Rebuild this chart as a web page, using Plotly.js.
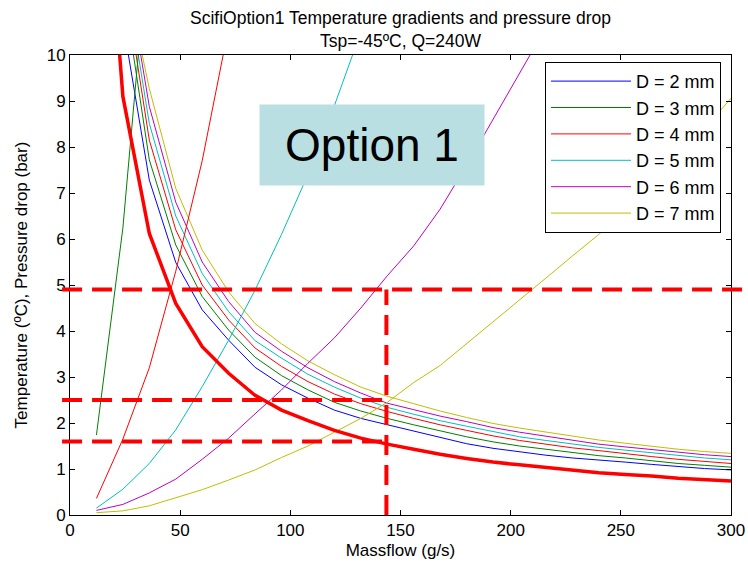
<!DOCTYPE html>
<html>
<head>
<meta charset="utf-8">
<script src="https://cdn.plot.ly/plotly-3.0.1.min.js"></script>
<style>html,body{margin:0;padding:0;background:#fff;} #chart{width:748px;height:566px;}</style>
</head>
<body>
<div id="chart"></div>
<script>
// Massflow (g/s)
const massflow = [12, 24, 36, 48, 60, 72, 84, 96, 108, 120, 132, 144, 156, 168, 180, 192, 204, 216, 228, 240, 252, 264, 276, 288, 300];

// Temperature gradients (decreasing curves)
const tempBold = [16.5, 9.1, 6.12, 4.6, 3.66, 3.08, 2.6, 2.28, 2.05, 1.84, 1.67, 1.54, 1.43, 1.32, 1.23, 1.15, 1.09, 1.03, 0.97, 0.92, 0.88, 0.85, 0.80, 0.77, 0.74];
const tempD2 = [20.0, 10.72, 7.28, 5.49, 4.46, 3.80, 3.21, 2.83, 2.54, 2.28, 2.10, 1.96, 1.82, 1.68, 1.55, 1.45, 1.37, 1.30, 1.24, 1.20, 1.15, 1.10, 1.05, 1.01, 0.98];
const tempD3 = [21.5, 11.52, 7.72, 5.87, 4.75, 4.02, 3.43, 3.03, 2.72, 2.45, 2.26, 2.10, 1.96, 1.83, 1.70, 1.59, 1.50, 1.43, 1.36, 1.29, 1.24, 1.18, 1.12, 1.08, 1.04];
const tempD4 = [22.5, 11.85, 8.15, 6.2, 5.0, 4.24, 3.63, 3.23, 2.90, 2.63, 2.42, 2.25, 2.10, 1.96, 1.84, 1.72, 1.62, 1.54, 1.46, 1.40, 1.33, 1.27, 1.21, 1.16, 1.12];
const tempD5 = [23.5, 12.09, 8.51, 6.5, 5.25, 4.42, 3.79, 3.41, 3.06, 2.78, 2.54, 2.34, 2.19, 2.05, 1.93, 1.81, 1.70, 1.62, 1.54, 1.47, 1.41, 1.35, 1.29, 1.24, 1.20];
const tempD6 = [24.5, 12.33, 8.88, 6.8, 5.5, 4.64, 3.97, 3.56, 3.20, 2.90, 2.65, 2.43, 2.29, 2.15, 2.03, 1.90, 1.80, 1.71, 1.62, 1.54, 1.48, 1.42, 1.36, 1.31, 1.27];
const tempD7 = [25.5, 12.0, 9.27, 7.1, 5.76, 4.85, 4.16, 3.72, 3.35, 3.05, 2.78, 2.58, 2.42, 2.26, 2.12, 1.99, 1.89, 1.80, 1.71, 1.63, 1.56, 1.49, 1.43, 1.38, 1.34];

// Pressure drop (increasing curves), same massflow points from the start
const dpD3 = [1.74, 6.24, 12.7];
const dpD4 = [0.36, 1.65, 3.2, 5.3, 7.7, 10.6];
const dpD5 = [0.15, 0.56, 1.12, 1.85, 2.79, 3.8, 4.89, 6.1, 7.4, 8.9, 10.5];
const dpD6 = [0.1, 0.23, 0.48, 0.78, 1.21, 1.67, 2.2, 2.72, 3.3, 3.85, 4.5, 5.2, 5.85, 6.65, 7.6, 8.6, 9.6, 10.6];
const dpD7 = [0.05, 0.09, 0.2, 0.38, 0.55, 0.76, 0.98, 1.25, 1.5, 1.8, 2.1, 2.45, 2.88, 3.25, 3.72, 4.2, 4.68, 5.15, 5.63, 6.1, 6.62, 7.2, 7.8, 8.4, 9.06];

const seriesNames = ['D = 2 mm', 'D = 3 mm', 'D = 4 mm', 'D = 5 mm', 'D = 6 mm', 'D = 7 mm'];
const seriesColors = ['#0000ff', '#008000', '#ff0000', '#00bfbf', '#bf00bf', '#bfbf00'];

// Guide lines (operating point)
const guideY = [4.9, 2.5, 1.6];
const guideX = 143.6;

const xRange = [0, 300];
const yRange = [0, 10];

const temps = [tempD2, tempD3, tempD4, tempD5, tempD6, tempD7];
const dps = [null, dpD3, dpD4, dpD5, dpD6, dpD7];

const traces = [];
temps.forEach((t, i) => {
  traces.push({
    x: massflow, y: t, type: 'scatter', mode: 'lines',
    name: seriesNames[i], legendrank: i + 1,
    line: {color: seriesColors[i], width: 1}
  });
});
dps.forEach((d, i) => {
  if (!d) return;
  traces.push({
    x: massflow.slice(0, d.length), y: d, type: 'scatter', mode: 'lines',
    showlegend: false,
    line: {color: seriesColors[i], width: 1}
  });
});
traces.push({
  x: massflow, y: tempBold, type: 'scatter', mode: 'lines', showlegend: false,
  line: {color: '#ff0000', width: 3.5}
});

const font = 'Liberation Sans, Arial, sans-serif';
const dashStyle = {color: '#ff0000', width: 4, dash: '20px,10px'};
const xPaper = v => (v - xRange[0]) / (xRange[1] - xRange[0]);

const shapes = [
  {type: 'line', xref: 'paper', yref: 'y', x0: -0.012, x1: 1.03, y0: guideY[0], y1: guideY[0], line: dashStyle},
  {type: 'line', xref: 'paper', yref: 'y', x0: -0.012, x1: xPaper(guideX), y0: guideY[1], y1: guideY[1], line: dashStyle},
  {type: 'line', xref: 'paper', yref: 'y', x0: -0.012, x1: xPaper(guideX), y0: guideY[2], y1: guideY[2], line: dashStyle},
  {type: 'line', xref: 'x', yref: 'y', x0: guideX, x1: guideX, y0: 0, y1: guideY[0], line: dashStyle}
];

const layout = {
  width: 748, height: 566,
  margin: {l: 70, r: 17, t: 55, b: 51},
  paper_bgcolor: '#ffffff', plot_bgcolor: 'rgba(0,0,0,0)',
  font: {family: font, color: '#000', size: 17},
  title: {
    text: 'ScifiOption1 Temperature gradients and pressure drop<br>Tsp=-45ºC, Q=240W',
    font: {family: font, size: 17.5, color: '#000'},
    x: 0.5, xref: 'paper', y: 0.957, yref: 'container', yanchor: 'middle'
  },
  xaxis: {
    range: xRange, tickvals: [0, 50, 100, 150, 200, 250, 300],
    ticks: 'inside', ticklen: 5, tickcolor: '#000', mirror: 'ticks',
    showline: true, linecolor: '#000', linewidth: 1, showgrid: false, zeroline: false,
    tickfont: {size: 17},
    title: {text: 'Massflow (g/s)', font: {size: 17}, standoff: 4}
  },
  yaxis: {
    range: yRange, tickvals: [0, 1, 2, 3, 4, 5, 6, 7, 8, 9, 10],
    ticks: 'inside', ticklen: 5, tickcolor: '#000', mirror: 'ticks',
    showline: true, linecolor: '#000', linewidth: 1, showgrid: false, zeroline: false,
    tickfont: {size: 17},
    title: {text: 'Temperature (ºC), Pressure drop (bar)', font: {size: 17}, standoff: 14}
  },
  legend: {
    x: 0.7186, y: 0.985, xanchor: 'left', yanchor: 'top',
    bgcolor: '#ffffff', bordercolor: '#000', borderwidth: 1,
    font: {size: 18}, itemwidth: 80, tracegroupgap: 0
  },
  shapes: shapes,
  annotations: [{
    xref: 'paper', yref: 'paper', x: 0.457, y: 0.804, xanchor: 'center', yanchor: 'middle',
    text: 'Option 1', showarrow: false, font: {size: 46, color: '#000'},
    bgcolor: '#b9dfe3', width: 222, height: 78, align: 'center', valign: 'middle'
  }],
  showlegend: true
};

Plotly.newPlot('chart', traces, layout, {displayModeBar: false, staticPlot: true});
</script>
</body>
</html>
